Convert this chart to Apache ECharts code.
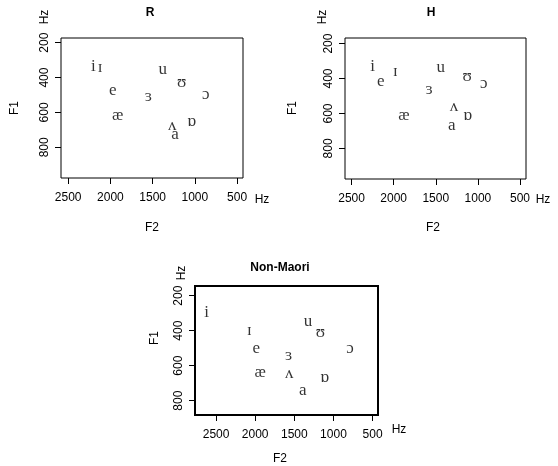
<!DOCTYPE html>
<html>
<head>
<meta charset="utf-8">
<script src="https://cdn.jsdelivr.net/npm/echarts@6/dist/echarts.min.js"></script>
<style>
html,body{margin:0;padding:0;background:#fff}
#main{width:558px;height:466px}
</style>
</head>
<body>
<div id="main"></div>
<script>
// vowel symbols, same order in every panel
const vowels = ['i', 'ɪ', 'e', 'æ', 'ɜ', 'u', 'ʊ', 'ɔ', 'ɒ', 'ʌ', 'a'];

// R speakers
const rF2 = [2201, 2122, 1972, 1913, 1551, 1381, 1156, 872, 1038, 1267, 1235];
const rF1 = [335, 345, 472, 617, 510, 354, 430, 497, 650, 674, 726];

// H speakers
const hF2 = [2251, 1979, 2152, 1877, 1581, 1442, 1128, 930, 1120, 1285, 1309];
const hF1 = [334, 358, 419, 610, 463, 339, 391, 426, 614, 558, 667];

// Non-Maori speakers
const nmF2 = [2620, 2073, 1987, 1936, 1573, 1325, 1167, 790, 1111, 1564, 1393];
const nmF1 = [295, 400, 505, 640, 543, 349, 411, 501, 667, 644, 743];

const f2Ticks = [2500, 2000, 1500, 1000, 500];
const f1Ticks = [200, 400, 600, 800];

const panels = [
  { name: 'R', f2: rF2, f1: rF1, border: 1, grid: { left: 61, top: 38, width: 182, height: 140 },
    x: [430, 2585], y: [173, 976] },
  { name: 'H', f2: hF2, f1: hF1, border: 1, grid: { left: 345, top: 38, width: 181, height: 141 },
    x: [429, 2578], y: [168, 975] },
  { name: 'Non-Maori', f2: nmF2, f1: nmF1, border: 2, grid: { left: 195, top: 286, width: 183, height: 129 },
    x: [431, 2769], y: [145, 882] }
];

const sans = 'Liberation Sans, Arial, sans-serif';
const serif = 'Liberation Serif, DejaVu Serif, serif';

function txt(text, x, y, opts) {
  opts = opts || {};
  return {
    type: 'text', x: x, y: y, rotation: opts.rot ? Math.PI / 2 : 0,
    style: {
      text: text, fill: '#000', font: (opts.bold ? 'bold ' : '') + (opts.size || 12) + 'px ' + sans,
      textAlign: 'center', textVerticalAlign: 'middle'
    }
  };
}

const chart = echarts.init(document.getElementById('main'));

chart.setOption({
  animation: false,
  backgroundColor: '#fff',
  grid: panels.map(p => Object.assign({ show: true, borderColor: '#000', borderWidth: p.border }, p.grid)),
  xAxis: panels.map((p, i) => ({
    gridIndex: i, type: 'value', inverse: true, min: p.x[0], max: p.x[1],
    axisLine: { show: false },
    axisTick: { show: true, customValues: f2Ticks, length: 6, lineStyle: { color: '#000' } },
    axisLabel: { customValues: f2Ticks, margin: 14, color: '#000', fontSize: 12, fontFamily: sans,
      formatter: v => String(v) },
    splitLine: { show: false }
  })),
  yAxis: panels.map((p, i) => ({
    gridIndex: i, type: 'value', inverse: true, min: p.y[0], max: p.y[1],
    axisLine: { show: false },
    axisTick: { show: true, customValues: f1Ticks, length: 6, lineStyle: { color: '#000' } },
    axisLabel: { customValues: f1Ticks, margin: 10, rotate: 90, color: '#000', fontSize: 12, fontFamily: sans,
      formatter: v => String(v) },
    splitLine: { show: false }
  })),
  series: panels.map((p, i) => ({
    type: 'scatter', xAxisIndex: i, yAxisIndex: i,
    symbolSize: 1, itemStyle: { color: 'transparent' },
    data: p.f2.map((v, k) => [v, p.f1[k], vowels[k]]),
    label: {
      show: true, position: 'inside', formatter: d => d.value[2],
      color: '#000', fontSize: 17, fontFamily: serif
    }
  })),
  graphic: [
    txt('R', 150, 13, { bold: true }),
    txt('Hz', 45, 17, { rot: true }),
    txt('F1', 15, 108, { rot: true }),
    txt('Hz', 262, 200),
    txt('F2', 152, 228),

    txt('H', 431, 13, { bold: true }),
    txt('Hz', 323, 17, { rot: true }),
    txt('F1', 293, 108, { rot: true }),
    txt('Hz', 543, 200),
    txt('F2', 433, 228),

    txt('Non-Maori', 280, 268, { bold: true }),
    txt('Hz', 182, 273, { rot: true }),
    txt('F1', 155, 338, { rot: true }),
    txt('Hz', 399, 430),
    txt('F2', 280, 459)
  ]
});
</script>
</body>
</html>
